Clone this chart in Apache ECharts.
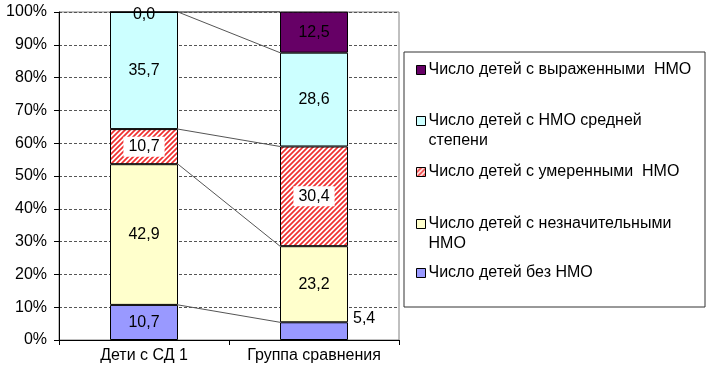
<!DOCTYPE html>
<html>
<head>
<meta charset="utf-8">
<script src="https://cdn.jsdelivr.net/npm/echarts@6/dist/echarts.min.js"></script>
<style>
html, body { margin: 0; background: #fff; }
#chart { width: 709px; height: 375px; }
</style>
</head>
<body>
<div id="chart"></div>
<script>
// данные с картинки, снизу вверх
const categories = ['Дети с СД 1', 'Группа сравнения'];
const noNmo = [10.7, 5.4];
const slightNmo = [42.9, 23.2];
const moderateNmo = [10.7, 30.4];
const mediumNmo = [35.7, 28.6];
const severeNmo = [0.0, 12.5];
const seriesNames = [
    'Число детей без НМО',
    'Число детей с незначительными НМО',
    'Число детей с умеренными НМО',
    'Число детей с НМО средней степени',
    'Число детей с выраженными НМО'
];
// пустая строка сверху, чтобы значок стоял напротив первой строки
const legendText = {
    'Число детей с выраженными НМО': 'Число детей с выраженными  НМО',
    'Число детей с НМО средней степени': ' \nЧисло детей с НМО средней\nстепени',
    'Число детей с умеренными НМО': 'Число детей с умеренными  НМО',
    'Число детей с незначительными НМО': ' \nЧисло детей с незначительными\nНМО',
    'Число детей без НМО': 'Число детей без НМО'
};

const font = 'Liberation Sans, Arial, sans-serif';

// штриховка для умеренных НМО
let hatch = document.createElement('canvas');
hatch.width = 5;
hatch.height = 5;
let ctx = hatch.getContext('2d');
ctx.fillStyle = '#fff';
ctx.fillRect(0, 0, 5, 5);
ctx.strokeStyle = '#f03030';
ctx.lineWidth = 1.7;
ctx.beginPath();
ctx.moveTo(-1, 6); ctx.lineTo(6, -1);
ctx.moveTo(-3, 3); ctx.lineTo(3, -3);
ctx.moveTo(2, 8); ctx.lineTo(8, 2);
ctx.stroke();

const colors = ['#9999ff', '#ffffcc', { image: hatch, repeat: 'repeat' }, '#ccffff', '#660066'];
const sets = [noNmo, slightNmo, moderateNmo, mediumNmo, severeNmo];

let fmt = (v) => v.toFixed(1).replace('.', ',');

// линии между столбцами по накопленным значениям
let connectors = [];
let cum = [0, 0];
sets.forEach((s) => {
    cum = [cum[0] + s[0], cum[1] + s[1]];
    connectors.push([0, cum[0], 1, cum[1]]);
});

let barSeries = sets.map((s, i) => ({
    name: seriesNames[i],
    type: 'bar',
    stack: 'total',
    barWidth: '40%',
    itemStyle: { color: colors[i], borderColor: '#000', borderWidth: 1 },
    label: {
        show: true,
        position: 'inside',
        color: '#000',
        fontFamily: font,
        fontSize: 16,
        formatter: (p) => fmt(p.value),
        backgroundColor: i === 2 ? '#fff' : 'transparent',
        padding: i === 2 ? [2, 5] : 0
    },
    data: s.map((v, j) => {
        if (i === 0 && j === 1) return { value: v, label: { position: 'right', offset: [0, -13] } };
        if (v === 0) return { value: v, label: { offset: [0, 3] } };
        return v;
    })
}));

// первая строка каждой записи: 70, 120, 172, 223, 273
let legendCenters = [70, 121, 172, 224, 273];
let legendOrder = seriesNames.slice().reverse();
let legends = legendOrder.map((name, k) => {
    let twoLines = legendText[name].indexOf('\n') > -1;
    return {
        left: 416,
        top: legendCenters[k] - (twoLines ? 30 : 10),
        orient: 'vertical',
        padding: 0,
        itemWidth: 9,
        itemHeight: 9,
        itemGap: 0,
        selectedMode: false,
        icon: 'rect',
        itemStyle: { borderColor: '#000', borderWidth: 1 },
        formatter: (n) => legendText[n],
        textStyle: {
            color: '#000',
            fontFamily: font,
            fontSize: 16,
            lineHeight: 20,
            padding: [0, 0, 0, -2]
        },
        data: [name]
    };
});

let chart = echarts.init(document.getElementById('chart'));
chart.setOption({
    animation: false,
    backgroundColor: '#fff',
    textStyle: { fontFamily: font },
    grid: {
        show: true,
        left: 59, right: 310, top: 12, bottom: 35,
        borderColor: '#808080', borderWidth: 1
    },
    graphic: [{
        type: 'rect',
        z: 0,
        shape: { x: 404, y: 52, width: 301, height: 255 },
        style: { fill: '#fff', stroke: '#333', lineWidth: 1 }
    }],
    legend: legends,
    xAxis: {
        type: 'category',
        data: categories,
        axisLine: { lineStyle: { color: '#000' } },
        axisTick: { show: true, length: 5, lineStyle: { color: '#000' } },
        axisLabel: { color: '#000', fontSize: 16, fontFamily: font, margin: 8, interval: 0 }
    },
    yAxis: {
        type: 'value',
        min: 0,
        max: 100,
        interval: 10,
        axisLine: { show: true, lineStyle: { color: '#000' } },
        axisTick: { show: true, length: 5, lineStyle: { color: '#000' } },
        axisLabel: { color: '#000', fontSize: 16, fontFamily: font, margin: 12, formatter: '{value}%' },
        splitLine: { lineStyle: { color: '#555', type: [3, 2], width: 1 } }
    },
    series: barSeries.concat([{
        type: 'custom',
        silent: true,
        z: 1,
        encode: { x: [0, 2], y: [1, 3] },
        renderItem: (params, api) => {
            let p1 = api.coord([api.value(0), api.value(1)]);
            let p2 = api.coord([api.value(2), api.value(3)]);
            let half = api.size([1, 0])[0] * 0.2;
            return {
                type: 'line',
                shape: { x1: p1[0] + half, y1: p1[1], x2: p2[0] - half, y2: p2[1] },
                style: { stroke: '#555', lineWidth: 1 }
            };
        },
        data: connectors
    }])
});
</script>
</body>
</html>
